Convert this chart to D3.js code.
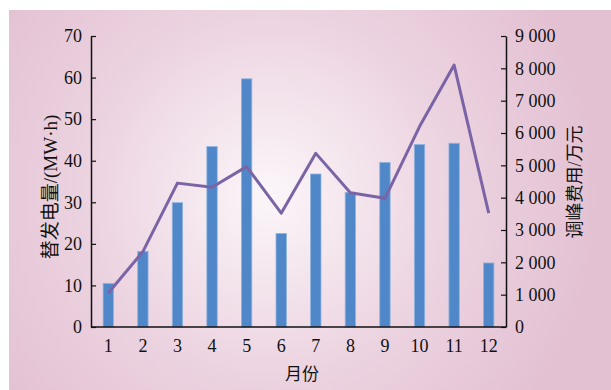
<!DOCTYPE html>
<html>
<head>
<meta charset="utf-8">
<script src="https://cdn.jsdelivr.net/npm/d3@7"></script>
<style>
  html, body { margin: 0; padding: 0; background: #fff; }
  text { fill: #111; }
</style>
</head>
<body>
<div id="chart"></div>
<script>
// data
const months = ["1", "2", "3", "4", "5", "6", "7", "8", "9", "10", "11", "12"];
const energy = [10.5, 18.2, 29.9, 43.4, 59.7, 22.5, 36.8, 32.4, 39.6, 43.9, 44.2, 15.4]; // MW·h
const cost = [1050, 2330, 4450, 4320, 4960, 3520, 5370, 4150, 3980, 6200, 8100, 3520]; // 万元
const leftTicks = [0, 10, 20, 30, 40, 50, 60, 70];
const rightTicks = [0, 1000, 2000, 3000, 4000, 5000, 6000, 7000, 8000, 9000];

const W = 611, H = 390;
const m = { left: 91, right: 105, top: 36, bottom: 63 };

const svg = d3.select("#chart").append("svg")
    .attr("width", W)
    .attr("height", H);

// pink background with light centre
const defs = svg.append("defs");
const grad = defs.append("radialGradient")
    .attr("id", "bg")
    .attr("gradientUnits", "userSpaceOnUse")
    .attr("cx", 270).attr("cy", 195).attr("r", 330);
grad.append("stop").attr("offset", "0%").attr("stop-color", "#fbf6f9");
grad.append("stop").attr("offset", "55%").attr("stop-color", "#ecd3e0");
grad.append("stop").attr("offset", "100%").attr("stop-color", "#e3c1d3");

svg.append("rect")
    .attr("x", 9).attr("y", 10)
    .attr("width", W - 9).attr("height", H - 10)
    .attr("fill", "url(#bg)");

const x = d3.scaleBand()
    .domain(months)
    .range([m.left, W - m.right])
    .paddingInner(0.7)
    .paddingOuter(0.35);

const yL = d3.scaleLinear().domain([0, 70]).range([H - m.bottom, m.top]);
const yR = d3.scaleLinear().domain([0, 9000]).range([H - m.bottom, m.top]);

// bars
svg.selectAll("rect.bar")
    .data(energy)
    .enter().append("rect")
    .attr("class", "bar")
    .attr("x", (d, i) => x(months[i]))
    .attr("y", d => yL(d))
    .attr("width", x.bandwidth())
    .attr("height", d => yL(0) - yL(d))
    .attr("fill", "#4f87c8")
    .attr("stroke", "#8fb4df")
    .attr("stroke-width", 0.8);

// line
const line = d3.line()
    .x((d, i) => x(months[i]) + x.bandwidth() / 2)
    .y(d => yR(d));

svg.append("path")
    .datum(cost)
    .attr("d", line)
    .attr("fill", "none")
    .attr("stroke", "#7a64a6")
    .attr("stroke-width", 3)
    .attr("stroke-linejoin", "round");

const serif = "'Liberation Serif', 'Times New Roman', serif";
const cjk = "'Noto Sans CJK SC', sans-serif";

// left axis
const gL = svg.append("g")
    .attr("transform", `translate(${m.left},0)`)
    .call(d3.axisLeft(yL).tickValues(leftTicks).tickSizeInner(-5).tickSizeOuter(0).tickPadding(9));

// right axis
const gR = svg.append("g")
    .attr("transform", `translate(${W - m.right},0)`)
    .call(d3.axisRight(yR).tickValues(rightTicks).tickFormat(d => d === 0 ? "0" : Math.floor(d / 1000) + " 000").tickSizeInner(-5).tickSizeOuter(0).tickPadding(9));

// bottom axis
const gB = svg.append("g")
    .attr("transform", `translate(0,${H - m.bottom})`)
    .call(d3.axisBottom(x).tickSize(0).tickPadding(12));

[gL, gR, gB].forEach(g => {
    g.selectAll("path.domain").attr("stroke", "#111").attr("stroke-width", 1.5);
    g.selectAll(".tick line").attr("stroke", "#111").attr("stroke-width", 1.2);
    g.selectAll("text")
        .attr("font-family", serif)
        .attr("font-size", 18)
        .attr("fill", "#111");
});

gB.select("path.domain").attr("d", `M${m.left},0H${W - m.right}`);

// axis titles
const tL = svg.append("text")
    .attr("transform", "translate(57,187) rotate(-90)")
    .attr("text-anchor", "middle")
    .attr("font-size", 19);
tL.append("tspan").attr("font-family", cjk).text("替发电量");
tL.append("tspan").attr("font-family", serif).text("/(MW·h)");

const tR = svg.append("text")
    .attr("transform", "translate(581,182) rotate(-90)")
    .attr("text-anchor", "middle")
    .attr("font-size", 18);
tR.append("tspan").attr("font-family", cjk).text("调峰费用");
tR.append("tspan").attr("font-family", serif).text("/");
tR.append("tspan").attr("font-family", cjk).text("万元");

svg.append("text")
    .attr("x", 302)
    .attr("y", 380)
    .attr("text-anchor", "middle")
    .attr("font-family", cjk)
    .attr("font-size", 17)
    .text("月份");
</script>
</body>
</html>
